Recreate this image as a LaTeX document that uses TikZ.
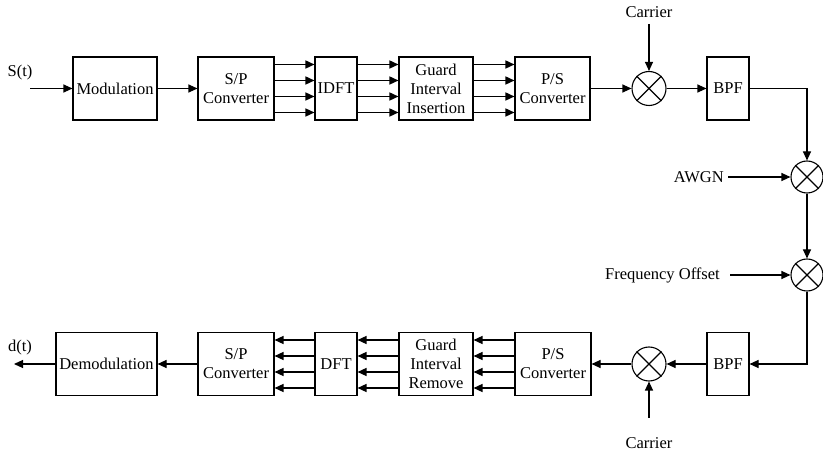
\documentclass[tikz,border=0pt]{standalone}
\usepackage{fontspec}
\setmainfont{Liberation Serif}
\usetikzlibrary{arrows.meta}
\tikzset{
  blk/.style={draw, line width=1.1pt, inner sep=0pt, align=center,
    minimum height=63pt, font=\fontsize{16.5}{19}\selectfont},
  mix/.style={draw, circle, line width=1.1pt, minimum size=34pt, inner sep=0pt},
  sig/.style={line width=1.1pt, -{Triangle[length=9pt,width=8pt]}},
  bus/.style={line width=1.5pt, -{Triangle[length=9pt,width=8pt]}},
  lbl/.style={inner sep=0pt, font=\fontsize{16.5}{19}\selectfont},
}
\newcommand{\cross}[1]{\draw[line width=1.1pt] (#1.north west) -- (#1.south east) (#1.north east) -- (#1.south west);}
\begin{document}
\begin{tikzpicture}[x=1pt,y=-1pt]
\useasboundingbox (0,0) rectangle (823,457);

% transmitter chain
\node[blk, minimum width=84pt] (mod)  at (115,88.5) {Modulation};
\node[blk, minimum width=76pt] (sp1)  at (236,88.5) {S/P\\Converter};
\node[blk, minimum width=42pt] (idft) at (336,88.5) {IDFT};
\node[blk, minimum width=74pt] (gii)  at (436,88.5) {Guard\\Interval\\Insertion};
\node[blk, minimum width=75pt] (ps1)  at (552.5,88.5) {P/S\\Converter};
\node[mix] (mx1) at (649,88.5) {}; \cross{mx1}
\node[blk, minimum width=42pt] (bpf1) at (728,88.5) {BPF};

% channel
\node[mix, minimum size=32pt] (mxa) at (807,177) {}; \cross{mxa}
\node[mix, minimum size=32pt] (mxb) at (807,275) {}; \cross{mxb}

% receiver chain
\node[blk, minimum width=42pt] (bpf2) at (728,364) {BPF};
\node[mix] (mx2) at (649,364) {}; \cross{mx2}
\node[blk, minimum width=76pt] (ps2)  at (553,364) {P/S\\Converter};
\node[blk, minimum width=74pt] (gir)  at (436,364) {Guard\\Interval\\Remove};
\node[blk, minimum width=42pt] (dft)  at (336,364) {DFT};
\node[blk, minimum width=76pt] (sp2)  at (236,364) {S/P\\Converter};
\node[blk, minimum width=101pt] (dem) at (106.5,364) {Demodulation};

% labels
\node[lbl] (st) at (20,73) {S(t)};
\node[lbl] (dt) at (20,348) {d(t)};
\node[lbl] (c1) at (649,12) {Carrier};
\node[lbl] (c2) at (649,443) {Carrier};
\node[lbl, anchor=east] (awgn) at (724,177) {AWGN};
\node[lbl, anchor=east] (fo) at (720,275) {Frequency Offset};

\coordinate (sin) at (30,88.5);
\coordinate (dout) at (14,364);
\coordinate (c1e) at (649,24);
\coordinate (c2e) at (649,418);
\coordinate (awe) at (728,177);
\coordinate (foe) at (730,275);
\coordinate (tr) at (807,88.5);
\coordinate (br) at (807,364);

% single signal paths
\draw[sig] (sin) -- (mod.west);
\draw[sig] (mod.east) -- (sp1.west);
\draw[sig] (ps1.east) -- (mx1.west);
\draw[sig] (c1e) -- (mx1.north);
\draw[sig] (mx1.east) -- (bpf1.west);
\draw[sig] (bpf1.east) -- (tr) -- (mxa.north);
\draw[sig] (awe) -- (mxa.west);
\draw[sig] (mxa.south) -- (mxb.north);
\draw[sig] (foe) -- (mxb.west);
\draw[sig] (mxb.south) -- (br) -- (bpf2.east);
\draw[sig] (bpf2.west) -- (mx2.east);
\draw[sig] (c2e) -- (mx2.south);
\draw[sig] (mx2.west) -- (ps2.east);
\draw[sig] (sp2.west) -- (dem.east);
\draw[sig] (dem.west) -- (dout);

% parallel buses
\foreach \d in {-24,-8,8,24} {
  \draw[bus] ([yshift=\d pt]sp1.east) -- ([yshift=\d pt]idft.west);
  \draw[bus] ([yshift=\d pt]idft.east) -- ([yshift=\d pt]gii.west);
  \draw[bus] ([yshift=\d pt]gii.east) -- ([yshift=\d pt]ps1.west);
  \draw[bus] ([yshift=\d pt]ps2.west) -- ([yshift=\d pt]gir.east);
  \draw[bus] ([yshift=\d pt]gir.west) -- ([yshift=\d pt]dft.east);
  \draw[bus] ([yshift=\d pt]dft.west) -- ([yshift=\d pt]sp2.east);
}
\end{tikzpicture}
\end{document}
